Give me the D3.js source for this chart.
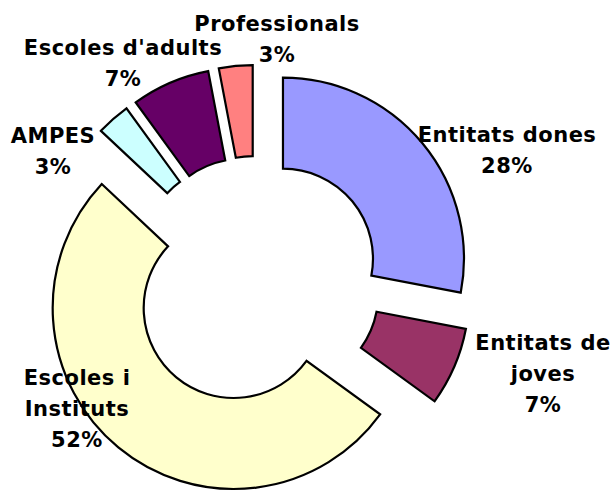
<!DOCTYPE html>
<html>
<head>
<meta charset="utf-8">
<script src="https://cdn.jsdelivr.net/npm/d3@7"></script>
<style>
  body { margin: 0; background: #fff; }
  text { font-family: "DejaVu Sans", Verdana, sans-serif; font-weight: bold; font-size: 21px; letter-spacing: 0.5px; fill: #000; }
</style>
</head>
<body>
<div class="main-container"></div>
<script>
const categories = ["Entitats dones", "Entitats de joves", "Escoles i Instituts", "AMPES", "Escoles d'adults", "Professionals"];
const values = [28, 7, 52, 3, 7, 3];
const colors = ["#9999ff", "#993366", "#ffffcc", "#ccffff", "#660066", "#ff8080"];
// how each category label wraps
const labelLines = [["Entitats dones"], ["Entitats de", "joves"], ["Escoles i", "Instituts"], ["AMPES"], ["Escoles d'adults"], ["Professionals"]];

const width = 616,
  height = 493;
const cx = 256, cy = 281,
  outerR = 181, innerR = 90,
  explode = 35;
// label anchor (centre x, first baseline y)
const labelPos = [[507, 142], [543, 350], [77, 385], [53, 143], [123, 55], [277, 31]];
const lineH = 31;

const svg = d3.select(".main-container")
  .append("svg")
  .attr("width", width)
  .attr("height", height);

const total = d3.sum(values);
const pie = d3.pie().sort(null).value(d => d)(values);

const arc = d3.arc()
  .innerRadius(innerR)
  .outerRadius(outerR);

const g = svg.append("g")
  .attr("transform", "translate(" + cx + "," + cy + ")");

g.selectAll("path")
  .data(pie)
  .join("path")
  .attr("transform", d => {
    const mid = (d.startAngle + d.endAngle) / 2;
    return "translate(" + (explode * Math.sin(mid)) + "," + (-explode * Math.cos(mid)) + ")";
  })
  .attr("d", arc)
  .attr("fill", (d, i) => colors[i])
  .attr("stroke", "#000")
  .attr("stroke-width", 2.2)
  .attr("stroke-linejoin", "miter");

const labels = svg.append("g");
pie.forEach((d, i) => {
  const lines = labelLines[i].concat([Math.round(d.value / total * 100) + "%"]);
  const t = labels.append("text")
    .attr("text-anchor", "middle")
    .attr("x", labelPos[i][0])
    .attr("y", labelPos[i][1]);
  lines.forEach((s, k) => {
    t.append("tspan")
      .attr("x", labelPos[i][0])
      .attr("dy", k === 0 ? 0 : lineH)
      .text(s);
  });
});
</script>
</body>
</html>
